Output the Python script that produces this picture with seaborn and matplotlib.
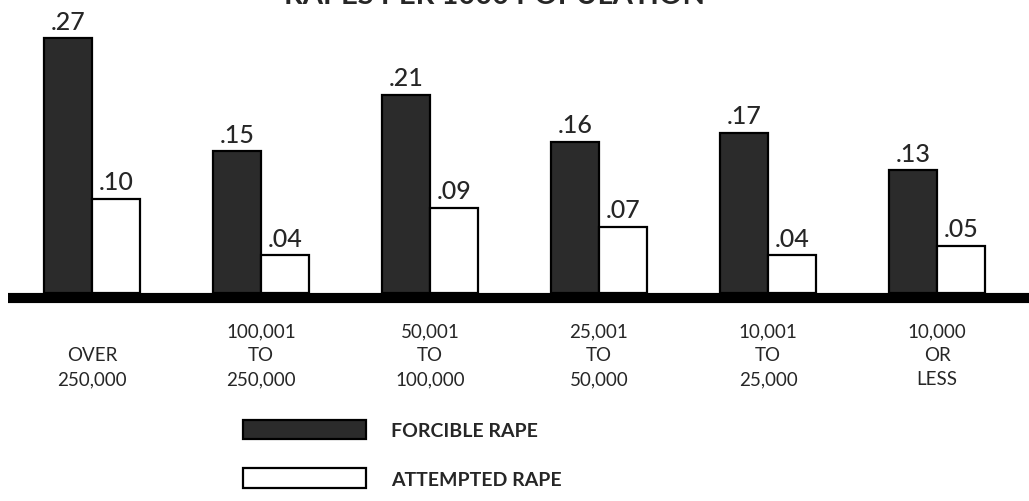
"""
Rapes per 1000 population by city size - grouped bar chart
"""

import numpy as np
import pandas as pd
import matplotlib
matplotlib.use('Agg')
import matplotlib.pyplot as plt
import seaborn as sns

# Data
CITY_SIZES = [
    '\nOVER\n250,000',
    '100,001\nTO\n250,000',
    '50,001\nTO\n100,000',
    '25,001\nTO\n50,000',
    '10,001\nTO\n25,000',
    '10,000\nOR\nLESS',
]
FORCIBLE = [0.27, 0.15, 0.21, 0.16, 0.17, 0.13]
ATTEMPTED = [0.10, 0.04, 0.09, 0.07, 0.04, 0.05]
SERIES = ['FORCIBLE RAPE', 'ATTEMPTED RAPE']
TITLE = 'RAPES PER 1000 POPULATION'

df = pd.DataFrame({
    'size': CITY_SIZES * 2,
    'rate': FORCIBLE + ATTEMPTED,
    'type': [SERIES[0]] * len(CITY_SIZES) + [SERIES[1]] * len(CITY_SIZES),
})

sns.set_style('white')
plt.rcParams['font.family'] = ['Lato', 'DejaVu Sans']

fig = plt.figure(figsize=(10.29, 5.02), dpi=100)
ax = fig.add_axes([0, 208 / 502, 1, 294 / 502])

sns.barplot(data=df, x='size', y='rate', hue='type', order=CITY_SIZES,
            hue_order=SERIES, palette=['#2b2b2b', 'white'],
            width=0.565, gap=0, edgecolor='black', linewidth=1.6,
            saturation=1, errorbar=None, ax=ax)

# value labels like ".27"
for cont in ax.containers:
    labels = [f'{b.get_height():.2f}'.lstrip('0') for b in cont]
    ax.bar_label(cont, labels=labels, padding=4, fontsize=18,
                 fontweight='medium')

ax.set_xlim(-0.544, 5.544)
ax.set_ylim(0, 294 / 944)
ax.axhline(-0.0053, xmin=8 / 1029, xmax=1, color='black', lw=7.3,
           solid_capstyle='butt', zorder=5, clip_on=False)

ax.set_xlabel('')
ax.set_ylabel('')
ax.set_yticks([])
ax.tick_params(axis='x', length=0, pad=21)
for lbl in ax.get_xticklabels():
    lbl.set_fontsize(13.5)
    lbl.set_linespacing(1.5)
sns.despine(ax=ax, left=True, bottom=True)

sns.move_legend(ax, 'upper left', bbox_to_anchor=(243 / 1029, 1 - 421 / 502),
                bbox_transform=fig.transFigure, title=None, frameon=False,
                handlelength=6.3, handleheight=1.15,
                labelspacing=1.5, handletextpad=1.3, borderpad=0,
                borderaxespad=0, prop={'weight': 'bold', 'size': 14})

fig.text(495 / 1029, 1 - 4 / 502, TITLE, ha='center', va='baseline',
         fontsize=21, fontweight='bold')

fig.savefig('out.png', dpi=100)
